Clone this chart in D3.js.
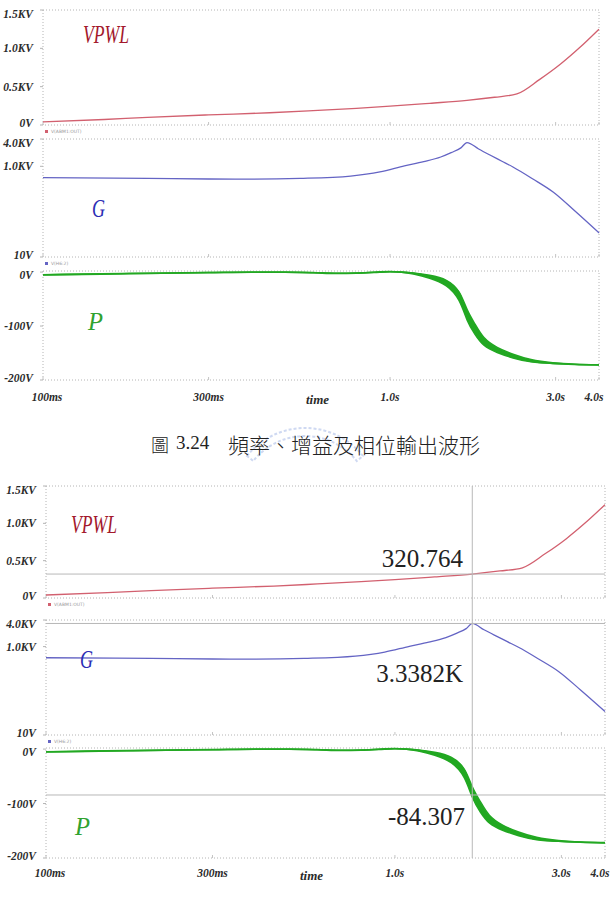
<!DOCTYPE html>
<html lang="zh-Hant">
<head>
<meta charset="UTF-8">
<title>頻率、增益及相位輸出波形</title>
<script src="https://d3js.org/d3.v7.min.js"></script>
<style>
  body { margin: 0; background: #fff; }
  svg { display: block; }
  .axis-label { font-family: 'Liberation Serif', 'Times New Roman', serif; font-style: italic; font-weight: bold; font-size: 11.5px; fill: #2b2b2b; }
  .trace-name { font-family: 'Liberation Serif', 'Times New Roman', serif; font-style: italic; font-size: 26px; }
  .legend { font-family: 'DejaVu Sans', sans-serif; font-size: 4.5px; fill: #9a9a9a; }
  .cursor-val { font-family: 'Liberation Serif', 'Times New Roman', serif; font-size: 25px; fill: #222; }
  .caption { font-family: 'Noto Sans CJK TC', sans-serif; font-weight: 300; font-size: 21px; fill: #222; }
</style>
</head>
<body>
<svg id="chart" width="611" height="898"></svg>
<script>
// x axis (time, log)
const timeTicks = [0.1, 0.3, 1, 3, 4];
const timeLabels = ["100ms", "300ms", "1.0s", "3.0s", "4.0s"];

// VPWL (V)
const vpwlT = [0.1, 0.15, 0.2, 0.3, 0.45, 0.6, 0.8, 1.0, 1.3, 1.666, 2.0, 2.32, 2.7, 3.1, 3.5, 4.0];
const vpwlV = [40, 72, 100, 132, 160, 188, 218, 245, 283, 321, 362, 405, 595, 795, 1000, 1250];
const vpwlTicks = [0, 500, 1000, 1500];
const vpwlTickLabels = ["0V", "0.5KV", "1.0KV", "1.5KV"];

// G (V, log axis)
const gT = [0.1, 0.2, 0.3, 0.4, 0.55, 0.77, 0.935, 1.1, 1.25, 1.4, 1.5, 1.6, 1.666, 1.8, 1.94, 2.1, 2.26, 2.58, 2.95, 3.41, 4.0];
const gV = [560, 540, 525, 520, 540, 610, 750, 1016, 1262, 1604, 2000, 2550, 3338, 2405, 1774, 1294, 966, 525, 271, 103, 34];
const gTicks = [10, 1000, 4000];
const gTickLabels = ["10V", "1.0KV", "4.0KV"];

// P (V) with ripple envelope (V)
const pT = [0.1, 0.13, 0.17, 0.22, 0.3, 0.4, 0.5, 0.6, 0.7, 0.8, 0.9, 1.0, 1.08, 1.16, 1.3, 1.46, 1.59, 1.666, 1.757, 1.853, 2.03, 2.26, 2.53, 2.95, 3.4, 4.0];
const pV = [-5, -4, -3, -2, -1, 0, 0, -1, -2.5, -2, -0.5, 1, 0, -2, -8, -18, -42, -82, -106, -130, -145, -156, -165, -169, -171, -172];
const pRipple = [0, 0, 0, 0, 0, 0, 0, 0, 0, 0, 0, 0, 0, 1, 2.5, 5, 8, 10, 10, 7, 4.5, 3.5, 2.2, 0.5, 0, 0];
const pTicks = [-200, -100, 0];
const pTickLabels = ["-200V", "-100V", "0V"];

// cursor (second figure)
const cursorTime = 1.666;
const cursorValues = [320.764, 3338.2, -84.307];
const cursorTexts = ["320.764", "3.3382K", "-84.307"];

const traces = [
  { name: "VPWL", t: vpwlT, v: vpwlV, color: "#d2606f", nameColor: "#a3182c", type: "lin", domain: [0, 1500], ticks: vpwlTicks, tickLabels: vpwlTickLabels, legend: "V(ABM1:OUT)", nameLen: 46 },
  { name: "G", t: gT, v: gV, color: "#6464c4", nameColor: "#2c2cb4", type: "log", domain: [10, 4000], ticks: gTicks, tickLabels: gTickLabels, legend: "V(H6:2)", nameLen: 13 },
  { name: "P", t: pT, v: pV, ripple: pRipple, color: "#22a822", nameColor: "#2fa22f", type: "lin", domain: [-200, 2], ticks: pTicks, tickLabels: pTickLabels, legend: null, nameLen: 15 }
];

const figures = [
  { left: 43, right: 599, panels: [[10, 125], [139, 257], [271, 380]], tickY: 401, timeX: 306, timeY: 404,
    names: [[83, 43], [92, 217], [88, 330]], cursor: false },
  { left: 46, right: 605, panels: [[486, 598], [620, 735], [748, 858]], tickY: 877, timeX: 300, timeY: 880,
    names: [[71, 533], [80, 668], [75, 835]], cursor: true,
    cursorPos: [[463, 567], [463, 682], [465, 825]] }
];

const svg = d3.select("#chart");

function drawFigure(fig) {
  const x = d3.scaleLog().domain([0.1, 4]).range([fig.left, fig.right]);
  const g = svg.append("g");

  traces.forEach((tr, i) => {
    const [y0, y1] = fig.panels[i];
    const y = (tr.type === "log" ? d3.scaleLog() : d3.scaleLinear()).domain(tr.domain).range([y1, y0]);
    const pts = tr.t.map((t, k) => ({ t: t, v: tr.v[k], r: tr.ripple ? tr.ripple[k] : 0 }));

    // dotted frame
    g.append("rect")
      .attr("x", fig.left).attr("y", y0)
      .attr("width", fig.right - fig.left).attr("height", y1 - y0)
      .attr("fill", "none").attr("stroke", "#b4b4b4")
      .attr("stroke-width", 1).attr("stroke-dasharray", "1,2");

    // y ticks + labels
    tr.ticks.forEach((tv, k) => {
      const ty = y(tv);
      g.append("line")
        .attr("x1", fig.left - 3).attr("x2", fig.left)
        .attr("y1", ty).attr("y2", ty)
        .attr("stroke", "#b4b4b4");
      g.append("text")
        .attr("class", "axis-label")
        .attr("x", fig.left - 10)
        .attr("y", Math.min(Math.max(ty, y0 + 4), y1 - 2))
        .attr("dy", "0.35em")
        .attr("text-anchor", "end")
        .text(tr.tickLabels[k]);
    });

    // x tick marks along the bottom of each panel
    timeTicks.forEach(tt => {
      g.append("line")
        .attr("x1", x(tt)).attr("x2", x(tt))
        .attr("y1", y1 - 3).attr("y2", y1)
        .attr("stroke", "#c4c4c4");
    });

    // ripple band
    if (tr.ripple) {
      const area = d3.area()
        .x(d => x(d.t))
        .y0(d => y(d.v - d.r))
        .y1(d => y(d.v + d.r))
        .curve(d3.curveBasis);
      g.append("path")
        .datum(pts)
        .attr("d", area)
        .attr("fill", tr.color)
        .attr("stroke", tr.color)
        .attr("stroke-width", 1.5);
    }

    const line = d3.line()
      .x(d => x(d.t))
      .y(d => y(d.v))
      .curve(d3.curveMonotoneX);
    g.append("path")
      .datum(pts)
      .attr("d", line)
      .attr("fill", "none")
      .attr("stroke", tr.color)
      .attr("stroke-width", tr.ripple ? 1.8 : 1.3);

    // trace name
    g.append("text")
      .attr("class", "trace-name")
      .attr("x", fig.names[i][0]).attr("y", fig.names[i][1])
      .attr("fill", tr.nameColor)
      .attr("textLength", tr.nameLen)
      .attr("lengthAdjust", "spacingAndGlyphs")
      .text(tr.name);

    // tiny legend below the panel
    if (tr.legend) {
      g.append("rect")
        .attr("x", fig.left + 2).attr("y", y1 + 5)
        .attr("width", 3).attr("height", 3)
        .attr("fill", tr.color);
      g.append("text")
        .attr("class", "legend")
        .attr("x", fig.left + 8).attr("y", y1 + 8)
        .text(tr.legend);
    }

    // cursor
    if (fig.cursor) {
      const cy = y(cursorValues[i]);
      g.append("line")
        .attr("x1", fig.left).attr("x2", fig.right)
        .attr("y1", cy).attr("y2", cy)
        .attr("stroke", "#b8b8b8").attr("stroke-width", 1);
      g.append("text")
        .attr("class", "cursor-val")
        .attr("x", fig.cursorPos[i][0]).attr("y", fig.cursorPos[i][1])
        .attr("text-anchor", "end")
        .text(cursorTexts[i]);
    }
  });

  if (fig.cursor) {
    g.append("line")
      .attr("x1", x(cursorTime)).attr("x2", x(cursorTime))
      .attr("y1", fig.panels[0][0]).attr("y2", fig.panels[2][1])
      .attr("stroke", "#b8b8b8").attr("stroke-width", 1);
  }

  // x labels
  timeTicks.forEach((tt, k) => {
    g.append("text")
      .attr("class", "axis-label")
      .attr("x", x(tt))
      .attr("dx", k === 0 ? 4 : (k === timeTicks.length - 1 ? -5 : 0))
      .attr("y", fig.tickY)
      .attr("text-anchor", "middle")
      .text(timeLabels[k]);
  });
  g.append("text")
    .attr("class", "axis-label")
    .attr("x", fig.timeX).attr("y", fig.timeY)
    .style("font-size", "13px")
    .text("time");
}

figures.forEach(drawFigure);

// faint watermark behind the caption
const arc = d3.arc().innerRadius(66).outerRadius(74).startAngle(-0.9).endAngle(0.9);
svg.append("path")
  .attr("d", arc())
  .attr("transform", "translate(305,502)")
  .attr("fill", "none")
  .attr("stroke", "#9fb4e6")
  .attr("stroke-width", 2)
  .attr("stroke-dasharray", "3,2")
  .attr("opacity", 0.5);

// caption
const cap = svg.append("text").attr("y", 452);
cap.append("tspan").attr("class", "caption").attr("x", 151).style("font-size", "18px").text("圖");
cap.append("tspan").attr("x", 176).attr("y", 449)
  .style("font-family", "'Liberation Serif', 'Times New Roman', serif").style("font-size", "19px").attr("fill", "#222")
  .text("3.24");
cap.append("tspan").attr("class", "caption").attr("x", 228).attr("y", 453).text("頻率、增益及相位輸出波形");
</script>
</body>
</html>
